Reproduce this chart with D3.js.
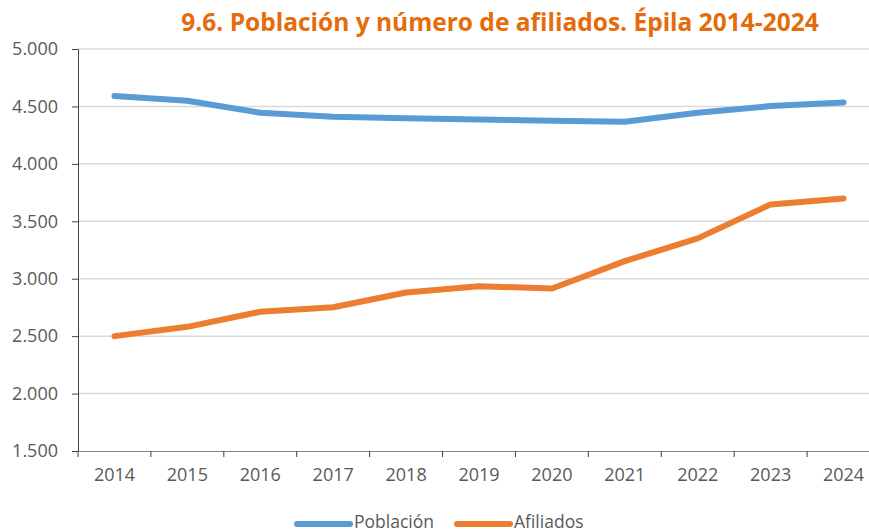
<!DOCTYPE html>
<html>
<head>
<meta charset="utf-8">
<script src="https://cdn.jsdelivr.net/npm/d3@7"></script>
<style>
  html, body { margin: 0; padding: 0; background: #fff; overflow: hidden; }
  svg { display: block; }
  .tick text { font-family: "Open Sans", "DejaVu Sans", sans-serif; fill: #595959; }
</style>
</head>
<body>
<svg id="chart"></svg>
<script>
// data
const years = ['2014', '2015', '2016', '2017', '2018', '2019', '2020', '2021', '2022', '2023', '2024'];
const poblacion = [4590, 4550, 4445, 4410, 4396, 4386, 4376, 4367, 4445, 4503, 4535];
const afiliados = [2500, 2581, 2712, 2752, 2880, 2935, 2915, 3153, 3351, 3647, 3699];
const yTicks = [1500, 2000, 2500, 3000, 3500, 4000, 4500, 5000];
const seriesNames = ['Población', 'Afiliados'];
const seriesColors = ['#5B9BD5', '#ED7D31'];
const title = '9.6. Población y número de afiliados. Épila 2014-2024';

const width = 869, height = 532;
const margin = { top: 49, right: -11, bottom: 81, left: 78 };
const innerW = width - margin.left - margin.right;
const innerH = height - margin.top - margin.bottom;

const svg = d3.select('#chart').attr('width', width).attr('height', height);
const chart = svg.append('g').attr('transform', `translate(${margin.left},${margin.top})`);

const xScale = d3.scaleBand().domain(years).range([0, innerW]);
const yScale = d3.scaleLinear().domain([1500, 5000]).range([innerH, 0]);

// gridlines
chart.append('g')
    .selectAll('line')
    .data(yTicks.filter(d => d !== 1500))
    .join('line')
    .attr('x1', 0).attr('x2', innerW)
    .attr('y1', d => yScale(d)).attr('y2', d => yScale(d))
    .attr('stroke', '#D9D9D9').attr('stroke-width', 1.5);

// y axis
const yAxis = d3.axisLeft(yScale)
    .tickValues(yTicks)
    .tickSize(6)
    .tickPadding(14)
    .tickFormat(d => d3.format(',')(d).replace(/,/g, '.'));
const yAxisG = chart.append('g').call(yAxis);
yAxisG.select('.domain').attr('stroke', '#404040');
yAxisG.selectAll('.tick line').attr('stroke', '#404040');
yAxisG.selectAll('.tick text').style('font-size', '18px');

// x axis
const xAxis = d3.axisBottom(xScale).tickSize(0).tickPadding(17);
const xAxisG = chart.append('g').attr('transform', `translate(0,${innerH})`).call(xAxis);
xAxisG.select('.domain').attr('stroke', '#868686').attr('stroke-width', 1.2);
xAxisG.selectAll('.tick text').style('font-size', '18px');
// category boundary ticks
chart.append('g')
    .selectAll('line')
    .data(years)
    .join('line')
    .attr('x1', d => xScale(d)).attr('x2', d => xScale(d))
    .attr('y1', innerH).attr('y2', innerH + 6)
    .attr('stroke', '#404040');

// lines
const line = d3.line()
    .x((d, i) => xScale(years[i]) + xScale.bandwidth() / 2)
    .y(d => yScale(d));

[poblacion, afiliados].forEach((series, i) => {
    chart.append('path')
        .datum(series)
        .attr('fill', 'none')
        .attr('stroke', seriesColors[i])
        .attr('stroke-width', 6)
        .attr('stroke-linejoin', 'round')
        .attr('stroke-linecap', 'round')
        .attr('d', line);
});

// title
svg.append('text')
    .attr('x', 500)
    .attr('y', 31)
    .attr('text-anchor', 'middle')
    .style('font-family', '"Open Sans", "DejaVu Sans", sans-serif')
    .style('font-weight', 'bold')
    .style('font-size', '24.5px')
    .style('fill', '#E46C0A')
    .text(title);

// legend
const legendX = [297, 457];
const legend = svg.append('g');
seriesNames.forEach((name, i) => {
    legend.append('line')
        .attr('x1', legendX[i]).attr('x2', legendX[i] + 53)
        .attr('y1', 524).attr('y2', 524)
        .attr('stroke', seriesColors[i])
        .attr('stroke-width', 6)
        .attr('stroke-linecap', 'round');
    legend.append('text')
        .attr('x', legendX[i] + 57)
        .attr('y', 528)
        .style('font-family', '"Open Sans", "DejaVu Sans", sans-serif')
        .style('font-size', '17.5px')
        .style('fill', '#595959')
        .text(name);
});
</script>
</body>
</html>
